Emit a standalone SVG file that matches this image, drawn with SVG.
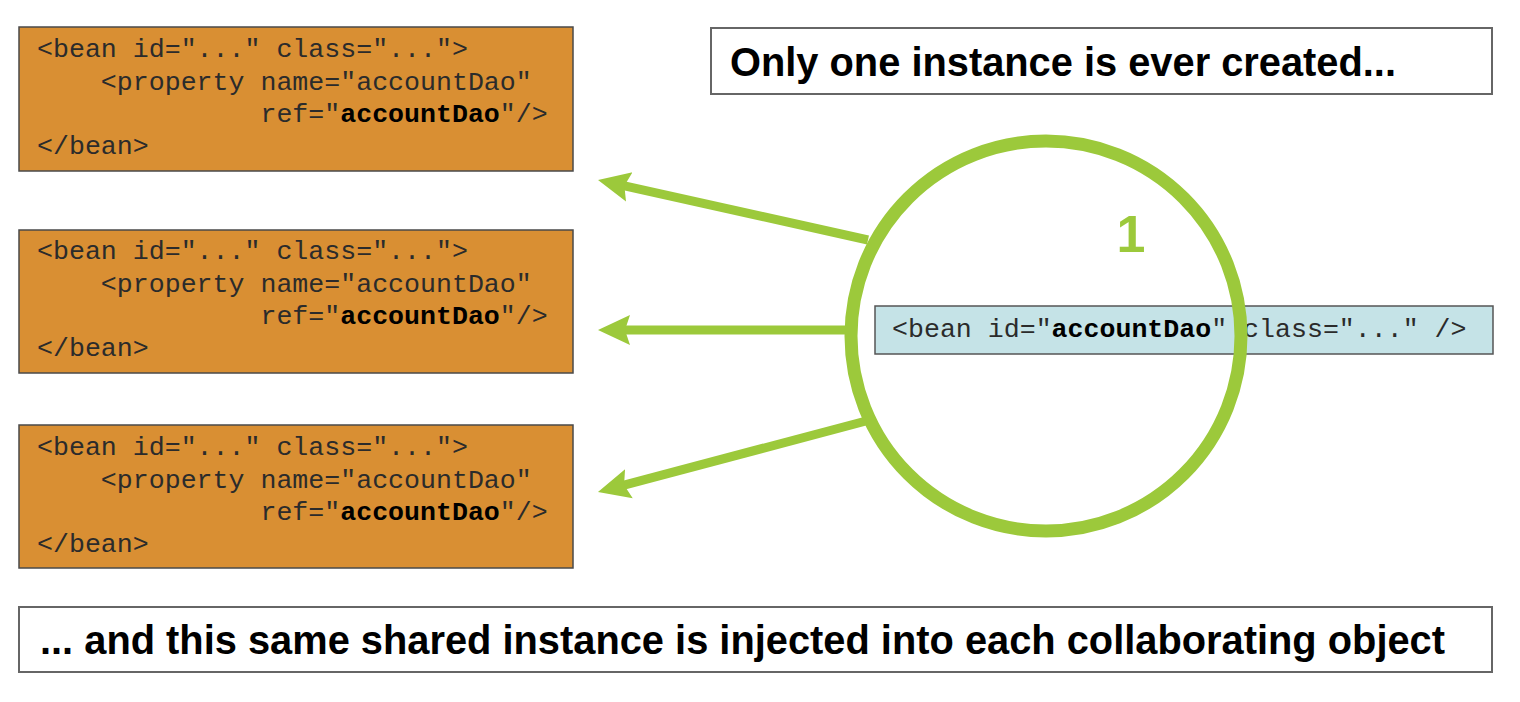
<svg xmlns="http://www.w3.org/2000/svg" width="1520" height="702" viewBox="0 0 1520 702">
<style>
.bean{fill:#D98F33;stroke:#4a4a4a;stroke-width:1.5}
.code{font-family:"Liberation Mono","Courier New",monospace;font-size:26.6px;fill:#2b2b2b}
.b{font-weight:bold;fill:#000}
.note{fill:#fff;stroke:#666;stroke-width:2}
.big{font-family:"Liberation Sans",Arial,sans-serif;font-weight:bold;font-size:40px;fill:#000}
.conn{stroke:#9CC93B;stroke-width:9;fill:none}
</style>
<defs>
<marker id="ah" markerUnits="userSpaceOnUse" markerWidth="32" markerHeight="32" refX="6" refY="16" orient="auto" viewBox="0 0 32 32">
<path d="M32,16 L0,1 L5,16 L0,31 Z" fill="#9CC93B"/>
</marker>
</defs>
<rect width="1520" height="702" fill="#fff"/>
<g id="bean1">
<rect class="bean" x="19" y="27" width="554" height="144"/>
<text class="code" x="37" y="57" xml:space="preserve">&lt;bean id="..." class="..."&gt;</text>
<text class="code" x="37" y="90" xml:space="preserve">    &lt;property name="accountDao"</text>
<text class="code" x="37" y="122" xml:space="preserve">              ref="<tspan class="b">accountDao</tspan>"/&gt;</text>
<text class="code" x="37" y="154" xml:space="preserve">&lt;/bean&gt;</text>
</g>
<g id="bean2">
<rect class="bean" x="19" y="230" width="554" height="143"/>
<text class="code" x="37" y="259" xml:space="preserve">&lt;bean id="..." class="..."&gt;</text>
<text class="code" x="37" y="292" xml:space="preserve">    &lt;property name="accountDao"</text>
<text class="code" x="37" y="324" xml:space="preserve">              ref="<tspan class="b">accountDao</tspan>"/&gt;</text>
<text class="code" x="37" y="356" xml:space="preserve">&lt;/bean&gt;</text>
</g>
<g id="bean3">
<rect class="bean" x="19" y="425" width="554" height="143"/>
<text class="code" x="37" y="455" xml:space="preserve">&lt;bean id="..." class="..."&gt;</text>
<text class="code" x="37" y="488" xml:space="preserve">    &lt;property name="accountDao"</text>
<text class="code" x="37" y="520" xml:space="preserve">              ref="<tspan class="b">accountDao</tspan>"/&gt;</text>
<text class="code" x="37" y="552" xml:space="preserve">&lt;/bean&gt;</text>
</g>
<g id="topnote">
<rect class="note" x="711" y="28" width="781" height="66"/>
<text class="big" x="730" y="76" textLength="666" lengthAdjust="spacingAndGlyphs">Only one instance is ever created...</text>
</g>
<g id="bottomnote">
<rect class="note" x="19" y="607" width="1473" height="65"/>
<text class="big" x="40" y="654" textLength="1405" lengthAdjust="spacingAndGlyphs">... and this same shared instance is injected into each collaborating object</text>
</g>
<g id="shared">
<rect x="875" y="306" width="618" height="48" fill="#C5E3E7" stroke="#555" stroke-width="1.5"/>
<text class="code" x="892" y="337" xml:space="preserve">&lt;bean id="<tspan class="b">accountDao</tspan>" class="..." /&gt;</text>
</g>
<g id="singleton">
<circle cx="1046" cy="336" r="195" fill="none" stroke="#9CC93B" stroke-width="13"/>
<text x="1131" y="252" font-family="Liberation Sans,Arial,sans-serif" font-weight="bold" font-size="52" fill="#9CC93B" text-anchor="middle">1</text>
</g>
<g id="connectors">
<line class="conn" x1="868" y1="240" x2="623.4" y2="185.6" marker-end="url(#ah)"/>
<line class="conn" x1="850" y1="330" x2="624" y2="330" marker-end="url(#ah)"/>
<line class="conn" x1="866" y1="421" x2="623.1" y2="485.3" marker-end="url(#ah)"/>
</g>
</svg>
